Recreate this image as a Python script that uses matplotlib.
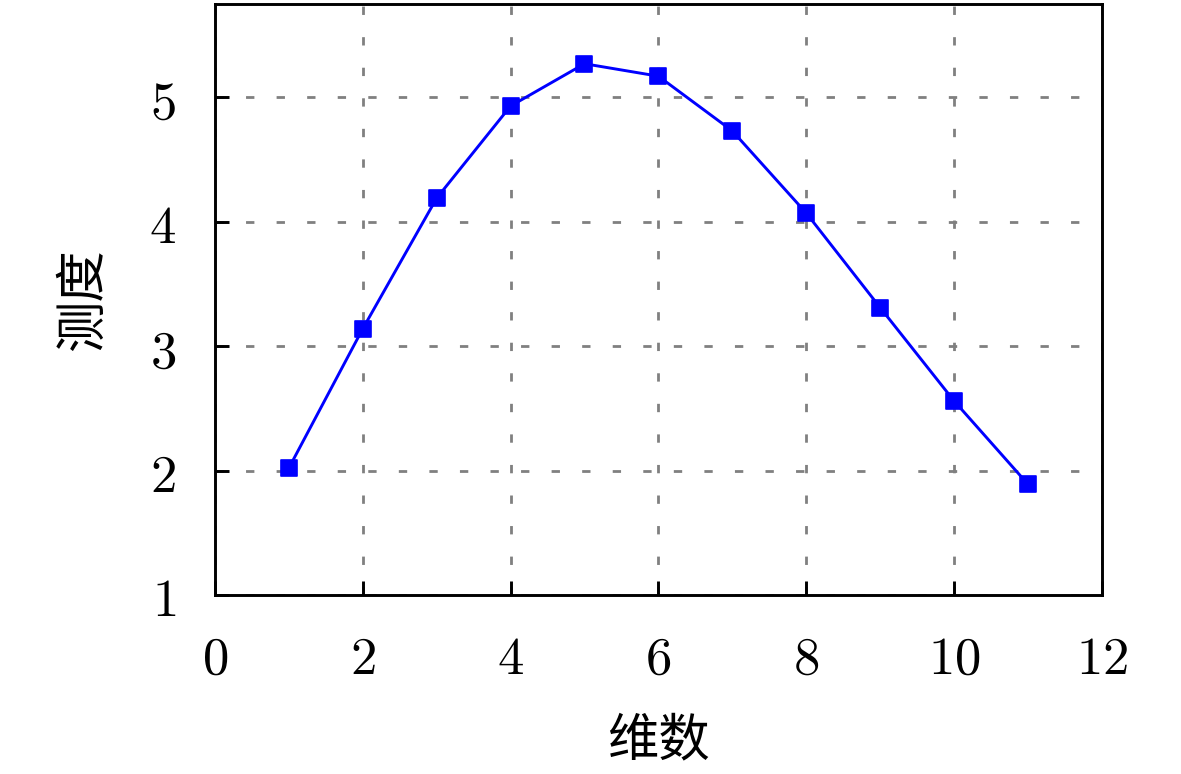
import matplotlib
matplotlib.use("Agg")
import matplotlib.pyplot as plt
from matplotlib.markers import MarkerStyle
from matplotlib.ticker import FuncFormatter, MultipleLocator

dims = [1, 2, 3, 4, 5, 6, 7, 8, 9, 10, 11]
measure = [2.02, 3.14, 4.19, 4.93, 5.27, 5.17, 4.73, 4.07, 3.31, 2.56, 1.89]
xlabel = "维数"
ylabel = "测度"

plt.rcParams['mathtext.fontset'] = 'cm'
plt.rcParams['font.family'] = ['Noto Sans CJK SC', 'DejaVu Sans']

fig = plt.figure(figsize=(11.81, 7.74), dpi=100)
ax = fig.add_axes([0.182, 0.2313, 0.751, 0.7635])

ax.plot(dims, measure, color='#0000ff', lw=2.1,
        marker=MarkerStyle('s', joinstyle='round'), markersize=11.5,
        markerfacecolor='#0000ff', markeredgecolor='#0000ff', markeredgewidth=1.2,
        solid_joinstyle='round', zorder=3)

ax.set_xlim(0, 12)
ax.set_ylim(1, 5.75)
ax.xaxis.set_major_locator(MultipleLocator(2))
ax.yaxis.set_major_locator(MultipleLocator(1))
fmt = FuncFormatter(lambda v, p: f'${v:g}$')
ax.xaxis.set_major_formatter(fmt)
ax.yaxis.set_major_formatter(fmt)

ax.grid(True, color='#808080', linestyle=(0, (3, 8)), linewidth=2.0)
ax.set_axisbelow(True)

for s in ax.spines.values():
    s.set_linewidth(2.1)

ax.tick_params(direction='in', length=10, width=2.1, labelsize=38,
               top=False, right=False)
ax.tick_params(axis='x', pad=26)
ax.tick_params(axis='y', pad=28)

ax.set_xlabel(xlabel, fontsize=37, labelpad=20)
ax.set_ylabel(ylabel, fontsize=37, labelpad=28)

fig.savefig('out.png', dpi=100)
